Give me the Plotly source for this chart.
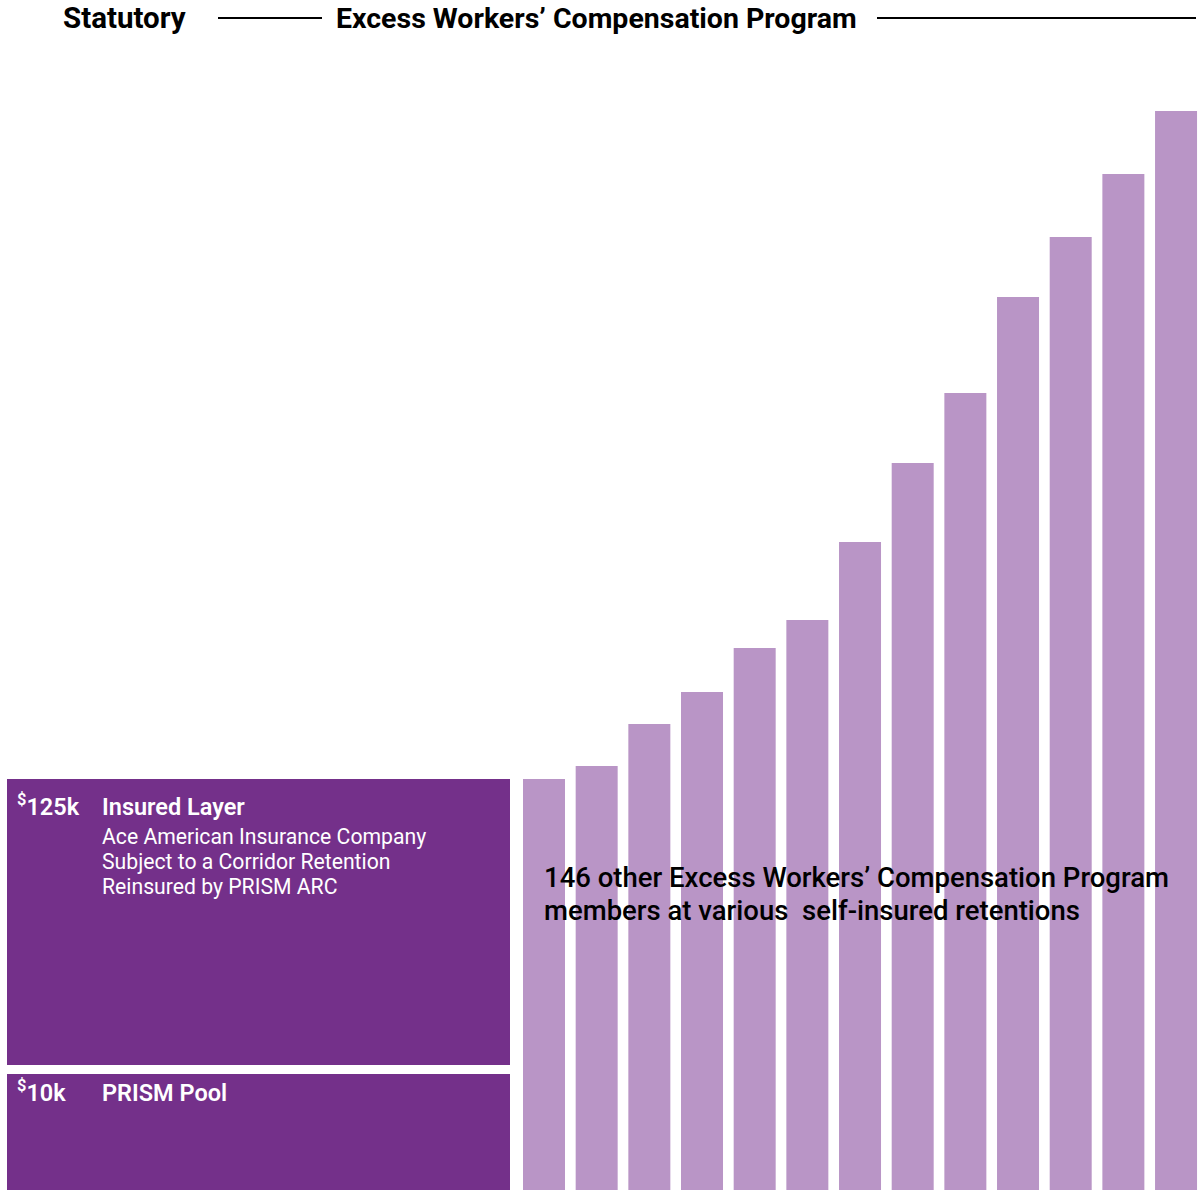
import plotly.graph_objects as go

# Relative retention levels (bar heights) of the other program members, low to high
member_levels = [411, 424, 466, 498, 542, 570, 648, 727, 797, 893, 953, 1016, 1079]

# Statutory layers on the left
layer_names = ["PRISM Pool", "Insured Layer"]
layer_amounts = ["10k", "125k"]
layer_bases = [0, 125]
layer_tops = [116, 411]
layer_details = [[], ["Ace American Insurance Company",
                      "Subject to a Corridor Retention",
                      "Reinsured by PRISM ARC"]]

header_left = "Statutory"
header_right = "Excess Workers’ Compensation Program"
members_note = ["146 other Excess Workers’ Compensation Program",
                "members at various  self-insured retentions"]

DARK = "#74308A"
LIGHT = "#B995C6"
W, H = 1198, 1190
FONT = "Roboto"

fig = go.Figure()

# Statutory layers drawn as wide bars with a base
fig.add_trace(go.Bar(
    x=[258.5] * len(layer_names),
    y=[t - b for t, b in zip(layer_tops, layer_bases)],
    base=layer_bases,
    width=503,
    marker=dict(color=DARK, line=dict(width=0)),
    hoverinfo="skip",
))

# Member retention bars
bar_x = [544 + i * 52.67 for i in range(len(member_levels))]
fig.add_trace(go.Bar(
    x=bar_x,
    y=member_levels,
    width=42,
    marker=dict(color=LIGHT, line=dict(width=0)),
    hoverinfo="skip",
))

ann = []
label_offsets = [19, 28]
for name, amt, det, top, off in zip(layer_names, layer_amounts, layer_details,
                                    layer_tops, label_offsets):
    ty = top - off
    ann.append(dict(x=15, y=ty + 2, xanchor="left", yanchor="middle",
                    text=f"<sup>$</sup>{amt}", showarrow=False,
                    font=dict(family=FONT, size=23.5, color="white", weight=600)))
    ann.append(dict(x=100, y=ty, xanchor="left", yanchor="middle",
                    text=name, showarrow=False,
                    font=dict(family=FONT, size=23.5, color="white", weight=600)))
    for k, line in enumerate(det):
        ann.append(dict(x=100, y=ty - 29 - 25 * k, xanchor="left", yanchor="middle",
                        text=line, showarrow=False,
                        font=dict(family=FONT, size=21.2, color="white")))

for k, line in enumerate(members_note):
    ann.append(dict(x=542, y=H - 877 - 33 * k, xanchor="left", yanchor="middle",
                    text=line, showarrow=False,
                    font=dict(family=FONT, size=27.5, color="black", weight=500)))

ann.append(dict(x=124, y=H - 18, xanchor="center", yanchor="middle",
                text=header_left, showarrow=False,
                font=dict(family=FONT, size=29.5, color="black", weight=700)))
ann.append(dict(x=596, y=H - 18, xanchor="center", yanchor="middle",
                text=header_right, showarrow=False,
                font=dict(family=FONT, size=28.5, color="black", weight=700)))

shapes = [
    dict(type="line", x0=218, x1=322, y0=H - 18, y1=H - 18,
         line=dict(color="black", width=2)),
    dict(type="line", x0=877, x1=1196, y0=H - 18, y1=H - 18,
         line=dict(color="black", width=2)),
]

fig.update_layout(
    width=W, height=H,
    margin=dict(l=0, r=0, t=0, b=0),
    paper_bgcolor="white", plot_bgcolor="white",
    showlegend=False, barmode="overlay",
    xaxis=dict(range=[0, W], visible=False, fixedrange=True),
    yaxis=dict(range=[0, H], visible=False, fixedrange=True),
    annotations=ann, shapes=shapes,
)

fig.write_html("out.html", config={"displayModeBar": False})
